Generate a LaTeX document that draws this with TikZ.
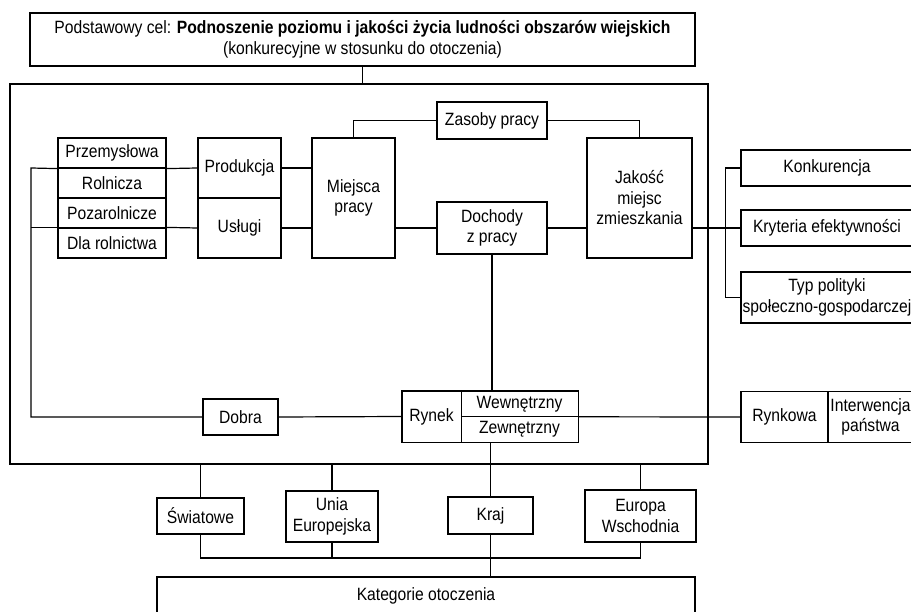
\documentclass[tikz,border=0pt]{standalone}
\usepackage{fontspec}
\setmainfont{Liberation Sans}[FakeStretch=0.88]
\usepackage{tikz}
\usetikzlibrary{positioning}
\tikzstyle{blok} = [draw, rectangle, line width=1.2pt, inner sep=0pt, align=center, font=\fontsize{17.8}{20.5}\selectfont]
\tikzstyle{cienki} = [blok, line width=0.6pt]
\tikzstyle{linia} = [line width=1.2pt]

\begin{document}
\begin{tikzpicture}[x=1pt,y=-1pt]
\useasboundingbox (0,0) rectangle (911,612);
% cel i ramka
\node[blok, minimum width=665, minimum height=53] (cel) at (362.5,39.5) {Podstawowy cel: \textbf{Podnoszenie poziomu i jakości życia ludności obszarów wiejskich}\\(konkurecyjne w stosunku do otoczenia)};
\node[blok, minimum width=698, minimum height=380] (ramka) at (359,274) {};
% lewa kolumna
\node[blok, minimum width=108, minimum height=30] (przem) at (112,153) {Przemysłowa};
\node[blok, minimum width=108, minimum height=30] (roln) at (112,183) {Rolnicza};
\node[blok, minimum width=108, minimum height=30] (pozar) at (112,213) {Pozarolnicze};
\node[blok, minimum width=108, minimum height=30] (dlaroln) at (112,243) {Dla rolnictwa};
\node[blok, minimum width=83, minimum height=60] (prod) at (239.5,168) {Produkcja};
\node[blok, minimum width=83, minimum height=60] (uslugi) at (239.5,228) {Usługi};
\node[blok, minimum width=83, minimum height=120] (miejsca) at (353.5,198) {Miejsca\\pracy};
\node[blok, minimum width=110, minimum height=37] (zasoby) at (492,120.5) {Zasoby pracy};
\node[blok, minimum width=110, minimum height=52] (dochody) at (492,228) {Dochody\\z pracy};
\node[blok, minimum width=105, minimum height=120] (jakosc) at (639.5,198) {Jakość\\miejsc\\zmieszkania};
% prawa kolumna
\node[blok, minimum width=172, minimum height=36] (konk) at (827,168) {Konkurencja};
\node[blok, minimum width=172, minimum height=36] (kryt) at (827,228) {Kryteria efektywności};
\node[blok, minimum width=172, minimum height=51] (typ) at (827,297.5) {Typ polityki\\społeczno-gospodarczej};
% rynek
\node[blok, minimum width=75, minimum height=36] (dobra) at (240.5,417) {Dobra};
\node[cienki, minimum width=59, minimum height=51] (rynek) at (431.5,416.5) {Rynek};
\node[cienki, minimum width=117, minimum height=25.5] (wewn) at (519.5,403.75) {Wewnętrzny};
\node[cienki, minimum width=117, minimum height=25.5] (zewn) at (519.5,429.25) {Zewnętrzny};
\draw[linia] (rynek.north west) rectangle (zewn.south east);
\node[blok, minimum width=87, minimum height=51] (rynkowa) at (784.5,417) {Rynkowa};
\node[blok, minimum width=85, minimum height=51] (interw) at (870.5,417) {Interwencja\\państwa};
% otoczenie
\node[blok, minimum width=87, minimum height=36] (swiat) at (200.5,516) {Światowe};
\node[blok, minimum width=92, minimum height=51] (unia) at (332,516.5) {Unia\\Europejska};
\node[blok, minimum width=85, minimum height=37] (kraj) at (490.5,515.5) {Kraj};
\node[blok, minimum width=111, minimum height=52] (europa) at (640.5,516) {Europa\\Wschodnia};
\node[blok, minimum width=538, minimum height=38] (kateg) at (426,596) {Kategorie otoczenia};

% polaczenia
\coordinate (lb) at (31,168);
\coordinate (szyna) at (0,558);
\draw[linia] (cel.south) -- (cel.south |- ramka.north);
\draw[linia] (zasoby.west) -| (miejsca.north);
\draw[linia] (zasoby.east) -| (jakosc.north);
\draw[linia] (przem.south east) -- (prod.west);
\draw[linia] (dlaroln.north east) -- (uslugi.west);
\draw[linia] (prod.east) -- (prod.east -| miejsca.west);
\draw[linia] (uslugi.east) -- (uslugi.east -| miejsca.west);
\draw[linia] (dochody.west -| miejsca.east) -- (dochody.west);
\draw[linia] (dochody.east) -- (dochody.east -| jakosc.west);
\draw[linia] (przem.south west) -- (lb) |- (dobra.west);
\draw[linia] (dlaroln.north west) -- (dlaroln.north west -| lb);
\draw[linia] (dobra.east) -- (rynek.west);
\draw[linia] (dochody.south) -- (dochody.south |- wewn.north);
\draw[linia] (wewn.south east) -- (rynkowa.west);
\draw[linia] (kryt.west -| jakosc.east) -- (kryt.west);
\draw[linia] (konk.west) -- ++(-15,0) |- (typ.west);
% dol
\draw[linia] (swiat.north |- ramka.south) -- (swiat.north);
\draw[linia] (unia.north |- ramka.south) -- (unia.north);
\draw[linia] (europa.north |- ramka.south) -- (europa.north);
\draw[linia] (zewn.south -| kraj.north) -- (kraj.north);
\draw[linia] (swiat.south) -- (swiat.south |- szyna) -| (europa.south);
\draw[linia] (unia.south) -- (unia.south |- szyna);
\draw[linia] (kraj.south) -- (kraj.south |- kateg.north);
\end{tikzpicture}
\end{document}
